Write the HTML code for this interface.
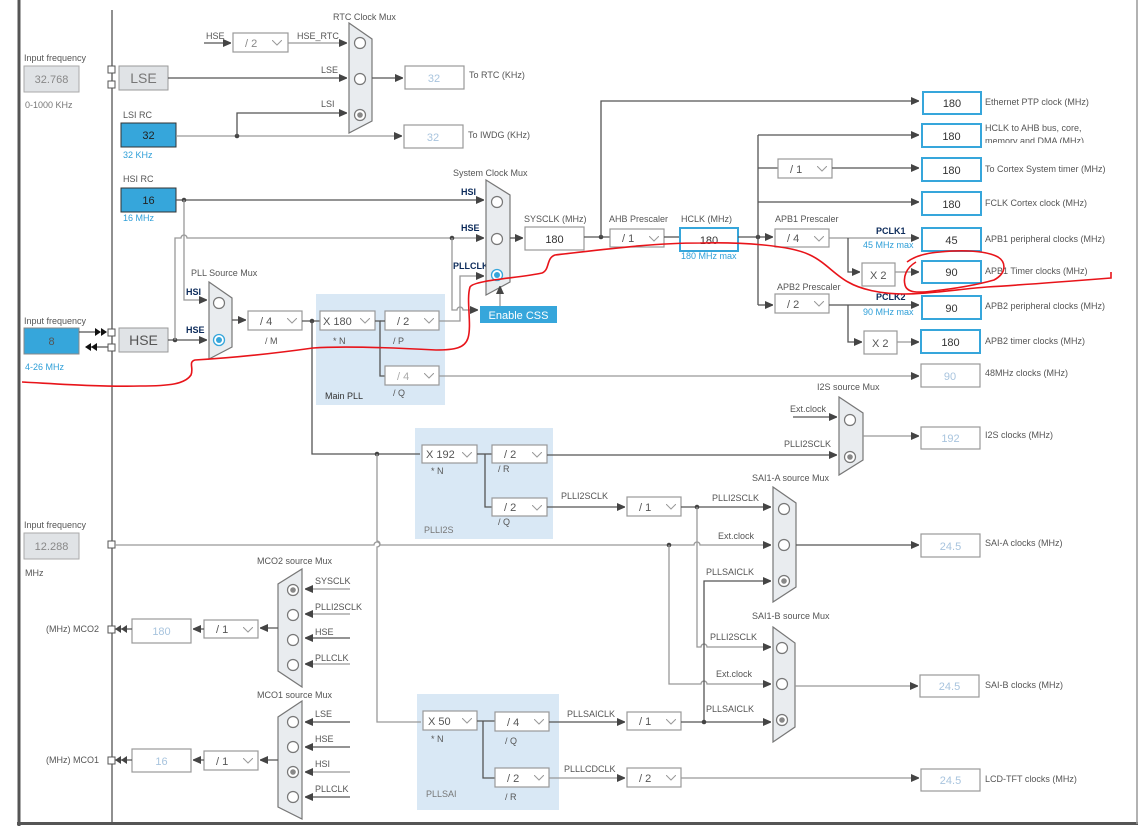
<!DOCTYPE html>
<html><head><meta charset="utf-8"><style>
html,body{margin:0;padding:0;background:#fff;width:1139px;height:831px;overflow:hidden}
svg{display:block}
text{font-family:"Liberation Sans",sans-serif}
.l{fill:none;stroke:#555;stroke-width:1.3}
.lg{fill:none;stroke:#999;stroke-width:1.3}
.t{font-size:9px;fill:#555}
.tn{font-size:9px;fill:#0b2a5a;font-weight:bold}
.tb{font-size:9px;fill:#2f9fd8}
.bx{fill:#fff;stroke:#999;stroke-width:1.2}
.bt{font-size:11px;fill:#555}
.bo{fill:#fff;stroke:#36a6db;stroke-width:2}
.bg{font-size:11px;fill:#a8c4de}
.mux{fill:#e9ecef;stroke:#777;stroke-width:1.2}
.c{fill:#fff;stroke:#777;stroke-width:1.2}
.pll{fill:#d9e8f5}
</style></head><body>
<svg width="1139" height="831" viewBox="0 0 1139 831" xmlns="http://www.w3.org/2000/svg">
<defs>
<marker id="a" markerWidth="8" markerHeight="8" refX="8" refY="4" orient="auto" markerUnits="userSpaceOnUse"><path d="M0,0 L9,4 L0,8z" fill="#444"/></marker>
<symbol id="ch" viewBox="0 0 10 6"><path d="M0,0 L5,5 L10,0" fill="none" stroke="#999" stroke-width="1"/></symbol>
</defs>
<!-- frame -->
<rect x="17.5" y="0" width="3" height="826" fill="#555"/>
<rect x="17" y="822" width="1121" height="3" fill="#555"/>
<line x1="1137" y1="0" x2="1137" y2="824" stroke="#999" stroke-width="1.5"/>
<line x1="112" y1="10" x2="112" y2="822" class="l"/>

<!-- PLL regions -->
<rect class="pll" x="316" y="294" width="129" height="111"/>
<rect class="pll" x="415" y="428" width="138" height="111"/>
<rect class="pll" x="417" y="694" width="142" height="116"/>

<!-- Left inputs -->
<text class="t" x="24" y="61">Input frequency</text>
<rect x="24" y="66" width="55" height="26" fill="#e0e3e6" stroke="#aaa"/>
<text class="bt" x="51.5" y="83" text-anchor="middle" fill="#888" style="fill:#888">32.768</text>
<text class="t" x="25" y="108" style="fill:#777">0-1000 KHz</text>
<rect x="108" y="66" width="7" height="7" fill="#fff" stroke="#555"/>
<rect x="108" y="81" width="7" height="7" fill="#fff" stroke="#555"/>
<rect x="119" y="66" width="49" height="24" fill="#e0e3e6" stroke="#999"/>
<text x="143.5" y="83" text-anchor="middle" font-size="14" fill="#777">LSE</text>

<text class="t" x="24" y="324">Input frequency</text>
<rect x="24" y="328" width="55" height="26" fill="#36a6db" stroke="#888"/>
<text class="bt" x="51.5" y="345" text-anchor="middle">8</text>
<text class="tb" x="25" y="370">4-26 MHz</text>
<line x1="79" y1="332" x2="98" y2="332" class="l"/>
<path d="M95,328 L101,332 L95,336z M101,328 L107,332 L101,336z" fill="#111"/>
<line x1="88" y1="347" x2="108" y2="347" class="l"/>
<path d="M85,347 L91,343 L91,351z M91,347 L97,343 L97,351z" fill="#111"/>
<rect x="108" y="329" width="7" height="7" fill="#fff" stroke="#555"/>
<rect x="108" y="344" width="7" height="7" fill="#fff" stroke="#555"/>
<rect x="119" y="328" width="49" height="24" fill="#e0e3e6" stroke="#999"/>
<text x="143.5" y="345" text-anchor="middle" font-size="14" fill="#555">HSE</text>

<text class="t" x="24" y="528">Input frequency</text>
<rect x="24" y="533" width="55" height="26" fill="#e0e3e6" stroke="#aaa"/>
<text class="bt" x="51.5" y="550" text-anchor="middle" style="fill:#888">12.288</text>
<text class="t" x="25" y="576">MHz</text>
<rect x="108" y="541" width="7" height="7" fill="#fff" stroke="#555"/>

<!-- RTC -->
<text class="t" x="333" y="20">RTC Clock Mux</text>
<polygon class="mux" points="349,23 372,39 372,121 349,133"/>
<circle class="c" cx="360" cy="43" r="5.5"/><circle class="c" cx="360" cy="79" r="5.5"/><circle class="c" cx="360" cy="115" r="5.5"/><circle cx="360" cy="115" r="2.8" fill="#888"/>
<text class="t" x="206" y="39">HSE</text>
<line x1="204" y1="43" x2="231" y2="43" class="l" marker-end="url(#a)"/>
<rect class="bx" x="233" y="33" width="55" height="19"/><text class="bt" x="245" y="47" style="fill:#888">/ 2</text><use href="#ch" x="272" y="40" width="10" height="6"/>
<text class="t" x="297" y="39">HSE_RTC</text>
<line x1="288" y1="43" x2="347" y2="43" class="lg" marker-end="url(#a)"/>
<text class="t" x="321" y="73">LSE</text>
<line x1="168" y1="78" x2="347" y2="78" class="l" marker-end="url(#a)"/>
<line x1="372" y1="78" x2="403" y2="78" class="l" marker-end="url(#a)"/>
<rect class="bx" x="405" y="66" width="59" height="23"/><text class="bg" x="434" y="82" text-anchor="middle">32</text>
<text class="t" x="469" y="78">To RTC (KHz)</text>

<text class="t" x="123" y="118">LSI RC</text>
<rect x="121" y="123" width="55" height="24" fill="#36a6db" stroke="#333"/>
<text class="bt" x="148.5" y="139" text-anchor="middle" style="fill:#222">32</text>
<text class="tb" x="123" y="158">32 KHz</text>
<line x1="176" y1="136" x2="402" y2="136" class="lg" marker-end="url(#a)"/>
<circle cx="237" cy="136" r="2.3" fill="#444"/>
<polyline points="237,136 237,113 347,113" class="l" marker-end="url(#a)"/>
<text class="t" x="321" y="107">LSI</text>
<rect class="bx" x="404" y="125" width="59" height="23"/><text class="bg" x="433" y="141" text-anchor="middle">32</text>
<text class="t" x="468" y="138">To IWDG (KHz)</text>

<!-- HSI / system mux -->
<text class="t" x="123" y="182">HSI RC</text>
<rect x="121" y="188" width="55" height="24" fill="#36a6db" stroke="#333"/>
<text class="bt" x="148.5" y="204" text-anchor="middle" style="fill:#222">16</text>
<text class="tb" x="123" y="221">16 MHz</text>
<line x1="176" y1="200" x2="484" y2="200" class="l" marker-end="url(#a)"/>
<circle cx="184" cy="200" r="2.3" fill="#444"/>
<polyline points="184,200 184,300 207,300" class="lg" marker-end="url(#a)"/>
<text class="tn" x="461" y="195">HSI</text>
<text class="tn" x="186" y="295">HSI</text>
<text class="tn" x="186" y="333">HSE</text>
<line x1="168" y1="340" x2="207" y2="340" class="l" marker-end="url(#a)"/>
<circle cx="175" cy="340" r="2.3" fill="#444"/>
<path d="M175,340 L175,238 L181,238 A3,3 0 0 1 187,238 L484,238" class="lg" marker-end="url(#a)"/>
<text class="tn" x="461" y="231">HSE</text>
<circle cx="452" cy="238" r="2.3" fill="#444"/>
<path d="M452,238 L452,310 L457,310 A3,3 0 0 1 463,310 L478,310" class="lg" marker-end="url(#a)"/>
<polyline points="439,321 460,321 460,276 484,276" class="lg" marker-end="url(#a)"/>
<text class="tn" x="453" y="269">PLLCLK</text>
<text class="t" x="453" y="176">System Clock Mux</text>
<polygon class="mux" points="486,180 510,195 510,282 486,295"/>
<circle class="c" cx="497" cy="202" r="5.5"/><circle class="c" cx="497" cy="239" r="5.5"/>
<circle cx="497" cy="275" r="5.5" fill="#fff" stroke="#36a6db" stroke-width="1.3"/><circle cx="497" cy="275" r="3" fill="#36a6db"/>
<rect x="480" y="306" width="77" height="17" fill="#36a6db"/>
<text x="518.5" y="319" text-anchor="middle" font-size="11" fill="#fff">Enable CSS</text>
<line x1="500" y1="306" x2="500" y2="286" class="lg" marker-end="url(#a)"/>

<!-- PLL source mux & main PLL -->
<text class="t" x="191" y="276">PLL Source Mux</text>
<polygon class="mux" points="209,282 232,298 232,347 209,359"/>
<circle class="c" cx="219" cy="303" r="5.5"/>
<circle cx="219" cy="340" r="5.5" fill="#fff" stroke="#36a6db" stroke-width="1.3"/><circle cx="219" cy="340" r="3" fill="#36a6db"/>
<line x1="232" y1="320" x2="246" y2="320" class="l" marker-end="url(#a)"/>
<rect class="bx" x="248" y="311" width="54" height="19"/><text class="bt" x="260" y="325">/ 4</text><use href="#ch" x="287" y="318" width="10" height="6"/>
<text class="t" x="265" y="344">/ M</text>
<line x1="302" y1="321" x2="320" y2="321" class="l"/>
<circle cx="312" cy="321" r="2.3" fill="#444"/>
<rect class="bx" x="320" y="311" width="55" height="19"/><text class="bt" x="323" y="325">X 180</text><use href="#ch" x="360" y="318" width="10" height="6"/>
<text class="t" x="333" y="344">* N</text>
<rect class="bx" x="385" y="311" width="54" height="19"/><text class="bt" x="397" y="325">/ 2</text><use href="#ch" x="424" y="318" width="10" height="6"/>
<text class="t" x="393" y="344">/ P</text>
<polyline points="375,321 380,321 380,376 385,376" class="l"/>
<line x1="380" y1="321" x2="385" y2="321" class="l"/>
<rect class="bx" x="385" y="366" width="54" height="19"/><text class="bt" x="397" y="380" style="fill:#aaa">/ 4</text><use href="#ch" x="424" y="373" width="10" height="6"/>
<text class="t" x="393" y="396">/ Q</text>
<text class="t" x="325" y="399" style="fill:#333">Main PLL</text>
<line x1="439" y1="376" x2="919" y2="376" class="lg" marker-end="url(#a)"/>
<rect class="bx" x="921" y="364" width="59" height="23"/><text class="bg" x="950" y="380" text-anchor="middle">90</text>
<text class="t" x="985" y="376">48MHz clocks (MHz)</text>

<!-- SYSCLK -> AHB -->
<text class="t" x="524" y="222">SYSCLK (MHz)</text>
<line x1="510" y1="238" x2="523" y2="238" class="l" marker-end="url(#a)"/>
<rect class="bx" x="525" y="227" width="59" height="23"/><text class="bt" x="554.5" y="243" text-anchor="middle" style="fill:#333">180</text>
<line x1="584" y1="237" x2="610" y2="237" class="l"/>
<circle cx="601" cy="237" r="2.3" fill="#444"/>
<polyline points="601,237 601,101 919,101" class="l" marker-end="url(#a)"/>
<text class="t" x="609" y="222">AHB Prescaler</text>
<rect class="bx" x="610" y="229" width="54" height="18"/><text class="bt" x="622" y="242">/ 1</text><use href="#ch" x="649" y="236" width="10" height="6"/>
<line x1="664" y1="237" x2="680" y2="237" class="l"/>
<text class="t" x="681" y="222">HCLK (MHz)</text>
<rect class="bo" x="680" y="228" width="58" height="23"/><text class="bt" x="709" y="244" text-anchor="middle" style="fill:#333">180</text>
<text class="tb" x="681" y="259">180 MHz max</text>
<line x1="738" y1="237" x2="773" y2="237" class="l" marker-end="url(#a)"/>
<circle cx="758" cy="237" r="2.3" fill="#444"/>
<line x1="758" y1="135" x2="758" y2="305" class="l"/>
<line x1="758" y1="135" x2="919" y2="135" class="l" marker-end="url(#a)"/>
<line x1="758" y1="168" x2="778" y2="168" class="l"/>
<rect class="bx" x="778" y="159" width="54" height="19"/><text class="bt" x="790" y="173">/ 1</text><use href="#ch" x="817" y="166" width="10" height="6"/>
<line x1="832" y1="168" x2="919" y2="168" class="l" marker-end="url(#a)"/>
<line x1="758" y1="202" x2="919" y2="202" class="l" marker-end="url(#a)"/>
<text class="t" x="775" y="222">APB1 Prescaler</text>
<rect class="bx" x="775" y="229" width="54" height="18"/><text class="bt" x="787" y="242">/ 4</text><use href="#ch" x="814" y="236" width="10" height="6"/>
<line x1="829" y1="238" x2="919" y2="238" class="lg" marker-end="url(#a)"/>
<text class="tn" x="876" y="234">PCLK1</text>
<text class="tb" x="863" y="248">45 MHz max</text>
<polyline points="848,238 848,272 860,272" class="l" marker-end="url(#a)"/>
<rect class="bx" x="862" y="263" width="33" height="23"/><text class="bt" x="870" y="279">X 2</text>
<line x1="895" y1="272" x2="919" y2="272" class="lg" marker-end="url(#a)"/>
<line x1="758" y1="305" x2="773" y2="305" class="l" marker-end="url(#a)"/>
<text class="t" x="777" y="290">APB2 Prescaler</text>
<rect class="bx" x="775" y="294" width="54" height="19"/><text class="bt" x="787" y="308">/ 2</text><use href="#ch" x="814" y="301" width="10" height="6"/>
<line x1="829" y1="305" x2="919" y2="305" class="l" marker-end="url(#a)"/>
<text class="tn" x="876" y="300">PCLK2</text>
<text class="tb" x="863" y="315">90 MHz max</text>
<polyline points="848,305 848,342 862,342" class="l" marker-end="url(#a)"/>
<rect class="bx" x="864" y="331" width="33" height="23"/><text class="bt" x="872" y="347">X 2</text>
<line x1="897" y1="342" x2="919" y2="342" class="lg" marker-end="url(#a)"/>

<!-- output boxes -->
<g>
<rect class="bo" x="923" y="92" width="58" height="22"/><text class="bt" x="952" y="107" text-anchor="middle" style="fill:#333">180</text>
<text class="t" x="985" y="105">Ethernet PTP clock (MHz)</text>
<rect class="bo" x="922" y="124" width="59" height="23"/><text class="bt" x="951.5" y="140" text-anchor="middle" style="fill:#333">180</text>
<text class="t" x="985" y="131">HCLK to AHB bus, core,</text>
<svg x="985" y="134" width="120" height="9" overflow="hidden"><text class="t" x="0" y="10">memory and DMA (MHz)</text></svg>
<rect class="bo" x="922" y="158" width="59" height="23"/><text class="bt" x="951.5" y="174" text-anchor="middle" style="fill:#333">180</text>
<text class="t" x="985" y="172">To Cortex System timer (MHz)</text>
<rect class="bo" x="922" y="192" width="59" height="23"/><text class="bt" x="951.5" y="208" text-anchor="middle" style="fill:#333">180</text>
<text class="t" x="985" y="206">FCLK Cortex clock (MHz)</text>
<rect class="bo" x="922" y="228" width="59" height="23"/><text class="bt" x="951.5" y="244" text-anchor="middle" style="fill:#333">45</text>
<text class="t" x="985" y="242">APB1 peripheral clocks (MHz)</text>
<rect class="bo" x="922" y="261" width="59" height="22"/><text class="bt" x="951.5" y="276" text-anchor="middle" style="fill:#333">90</text>
<text class="t" x="985" y="274">APB1 Timer clocks (MHz)</text>
<rect class="bo" x="922" y="296" width="59" height="23"/><text class="bt" x="951.5" y="312" text-anchor="middle" style="fill:#333">90</text>
<text class="t" x="985" y="309">APB2 peripheral clocks (MHz)</text>
<rect class="bo" x="921" y="330" width="59" height="23"/><text class="bt" x="950.5" y="346" text-anchor="middle" style="fill:#333">180</text>
<text class="t" x="985" y="344">APB2 timer clocks (MHz)</text>
</g>

<!-- PLLI2S -->
<polyline points="312,321 312,454 420,454" class="l"/>
<circle cx="377" cy="454" r="2.3" fill="#444"/>
<path d="M377,454 L377,541 A3,3 0 0 1 377,547 L377,722 L421,722" class="lg"/>
<rect class="bx" x="422" y="445" width="55" height="18"/><text class="bt" x="426" y="458">X 192</text><use href="#ch" x="462" y="452" width="10" height="6"/>
<text class="t" x="431" y="474">* N</text>
<polyline points="477,454 492,454" class="l"/><polyline points="485,454 485,507 492,507" class="l"/>
<rect class="bx" x="492" y="445" width="55" height="18"/><text class="bt" x="504" y="458">/ 2</text><use href="#ch" x="532" y="452" width="10" height="6"/>
<text class="t" x="498" y="472">/ R</text>
<rect class="bx" x="492" y="498" width="55" height="18"/><text class="bt" x="504" y="511">/ 2</text><use href="#ch" x="532" y="505" width="10" height="6"/>
<text class="t" x="498" y="525">/ Q</text>
<text class="t" x="424" y="533" style="fill:#777">PLLI2S</text>
<line x1="547" y1="455" x2="837" y2="455" class="l" marker-end="url(#a)"/>
<text class="t" x="784" y="447">PLLI2SCLK</text>
<text class="t" x="790" y="412">Ext.clock</text>
<line x1="793" y1="417" x2="837" y2="417" class="l" marker-end="url(#a)"/>
<text class="t" x="817" y="390">I2S source Mux</text>
<polygon class="mux" points="839,397 863,413 863,460 839,475"/>
<circle class="c" cx="850" cy="420" r="5.5"/><circle class="c" cx="850" cy="457" r="5.5"/><circle cx="850" cy="457" r="2.8" fill="#888"/>
<line x1="863" y1="436" x2="919" y2="436" class="lg" marker-end="url(#a)"/>
<rect class="bx" x="921" y="427" width="59" height="22"/><text class="bg" x="950.5" y="442" text-anchor="middle">192</text>
<text class="t" x="985" y="438">I2S clocks (MHz)</text>

<!-- SAI -->
<line x1="547" y1="507" x2="625" y2="507" class="l" marker-end="url(#a)"/>
<text class="t" x="561" y="499">PLLI2SCLK</text>
<rect class="bx" x="627" y="497" width="54" height="19"/><text class="bt" x="639" y="511">/ 1</text><use href="#ch" x="666" y="504" width="10" height="6"/>
<line x1="681" y1="507" x2="771" y2="507" class="l" marker-end="url(#a)"/>
<circle cx="697" cy="507" r="2.3" fill="#444"/>
<text class="t" x="712" y="501">PLLI2SCLK</text>
<path d="M115,545 L374,545 A3,3 0 0 1 380,545 L694,545 A3,3 0 0 1 700,545 L771,545" class="lg" marker-end="url(#a)"/>
<circle cx="669" cy="545" r="2.3" fill="#444"/>
<text class="t" x="718" y="539">Ext.clock</text>
<path d="M697,507 L697,647 L701,647 A3,3 0 0 1 707,647 L771,647" class="lg" marker-end="url(#a)"/>
<path d="M669,545 L669,684 L701,684 A3,3 0 0 1 707,684 L771,684" class="lg" marker-end="url(#a)"/>
<polyline points="704,722 704,581 771,581" class="l" marker-end="url(#a)"/>
<text class="t" x="706" y="575">PLLSAICLK</text>
<text class="t" x="710" y="640">PLLI2SCLK</text>
<text class="t" x="716" y="677">Ext.clock</text>
<text class="t" x="706" y="712">PLLSAICLK</text>
<text class="t" x="752" y="481">SAI1-A source Mux</text>
<polygon class="mux" points="773,487 796,503 796,587 773,602"/>
<circle class="c" cx="784" cy="509" r="5.5"/><circle class="c" cx="784" cy="545" r="5.5"/><circle class="c" cx="784" cy="581" r="5.5"/><circle cx="784" cy="581" r="2.8" fill="#888"/>
<line x1="796" y1="545" x2="919" y2="545" class="l" marker-end="url(#a)"/>
<rect class="bx" x="921" y="534" width="59" height="23"/><text class="bg" x="950.5" y="550" text-anchor="middle">24.5</text>
<text class="t" x="985" y="546">SAI-A clocks (MHz)</text>
<text class="t" x="752" y="619">SAI1-B source Mux</text>
<polygon class="mux" points="773,627 795,643 795,727 773,742"/>
<circle class="c" cx="782" cy="648" r="5.5"/><circle class="c" cx="782" cy="684" r="5.5"/><circle class="c" cx="782" cy="720" r="5.5"/><circle cx="782" cy="720" r="2.8" fill="#888"/>
<line x1="795" y1="686" x2="918" y2="686" class="lg" marker-end="url(#a)"/>
<rect class="bx" x="920" y="675" width="59" height="22"/><text class="bg" x="949.5" y="690" text-anchor="middle">24.5</text>
<text class="t" x="985" y="688">SAI-B clocks (MHz)</text>

<!-- PLLSAI -->
<rect class="bx" x="423" y="711" width="54" height="19"/><text class="bt" x="428" y="725">X 50</text><use href="#ch" x="462" y="718" width="10" height="6"/>
<text class="t" x="431" y="742">* N</text>
<line x1="477" y1="721" x2="495" y2="721" class="l"/><polyline points="483,721 483,778 495,778" class="l"/>
<rect class="bx" x="495" y="712" width="54" height="19"/><text class="bt" x="507" y="726">/ 4</text><use href="#ch" x="534" y="719" width="10" height="6"/>
<text class="t" x="505" y="744">/ Q</text>
<rect class="bx" x="495" y="768" width="54" height="19"/><text class="bt" x="507" y="782">/ 2</text><use href="#ch" x="534" y="775" width="10" height="6"/>
<text class="t" x="505" y="800">/ R</text>
<text class="t" x="426" y="797" style="fill:#777">PLLSAI</text>
<line x1="549" y1="722" x2="625" y2="722" class="l" marker-end="url(#a)"/>
<text class="t" x="567" y="717">PLLSAICLK</text>
<rect class="bx" x="627" y="712" width="54" height="18"/><text class="bt" x="639" y="725">/ 1</text><use href="#ch" x="666" y="719" width="10" height="6"/>
<line x1="681" y1="722" x2="771" y2="722" class="l" marker-end="url(#a)"/>
<circle cx="704" cy="722" r="2.3" fill="#444"/>
<line x1="549" y1="778" x2="625" y2="778" class="lg" marker-end="url(#a)"/>
<text class="t" x="564" y="772">PLLLCDCLK</text>
<rect class="bx" x="627" y="768" width="54" height="19"/><text class="bt" x="639" y="782">/ 2</text><use href="#ch" x="666" y="775" width="10" height="6"/>
<line x1="681" y1="778" x2="919" y2="778" class="lg" marker-end="url(#a)"/>
<rect class="bx" x="921" y="769" width="59" height="22"/><text class="bg" x="950.5" y="784" text-anchor="middle">24.5</text>
<text class="t" x="985" y="782">LCD-TFT clocks (MHz)</text>

<!-- MCO2 -->
<text class="t" x="257" y="564">MCO2 source Mux</text>
<polygon class="mux" points="302,569 302,687 278,671 278,584"/>
<circle class="c" cx="293" cy="590" r="5.5"/><circle cx="293" cy="590" r="2.8" fill="#888"/>
<circle class="c" cx="293" cy="615" r="5.5"/><circle class="c" cx="293" cy="640" r="5.5"/><circle class="c" cx="293" cy="665" r="5.5"/>
<text class="t" x="315" y="584">SYSCLK</text><line x1="350" y1="589" x2="305" y2="589" class="lg" marker-end="url(#a)"/>
<text class="t" x="315" y="610">PLLI2SCLK</text><line x1="350" y1="614" x2="305" y2="614" class="lg" marker-end="url(#a)"/>
<text class="t" x="315" y="635">HSE</text><line x1="350" y1="638" x2="305" y2="638" class="l" marker-end="url(#a)"/>
<text class="t" x="315" y="661">PLLCLK</text><line x1="350" y1="664" x2="305" y2="664" class="lg" marker-end="url(#a)"/>
<line x1="278" y1="628" x2="260" y2="628" class="l" marker-end="url(#a)"/>
<rect class="bx" x="204" y="620" width="54" height="18"/><text class="bt" x="216" y="633">/ 1</text><use href="#ch" x="243" y="627" width="10" height="6"/>
<line x1="204" y1="629" x2="193" y2="629" class="l" marker-end="url(#a)"/>
<rect class="bx" x="132" y="619" width="59" height="24"/><text class="bg" x="161.5" y="635" text-anchor="middle">180</text>
<line x1="132" y1="629" x2="115" y2="629" class="l"/>
<path d="M115,629 L121,625 L121,633z M121,629 L127,625 L127,633z" fill="#444"/>
<rect x="108" y="626" width="7" height="7" fill="#fff" stroke="#555"/>
<text class="t" x="46" y="632">(MHz) MCO2</text>

<!-- MCO1 -->
<text class="t" x="257" y="698">MCO1 source Mux</text>
<polygon class="mux" points="302,701 302,819 278,807 278,717"/>
<circle class="c" cx="293" cy="722" r="5.5"/><circle class="c" cx="293" cy="747" r="5.5"/>
<circle class="c" cx="293" cy="772" r="5.5"/><circle cx="293" cy="772" r="2.8" fill="#888"/><circle class="c" cx="293" cy="797" r="5.5"/>
<text class="t" x="315" y="717">LSE</text><line x1="350" y1="722" x2="305" y2="722" class="l" marker-end="url(#a)"/>
<text class="t" x="315" y="742">HSE</text><line x1="350" y1="747" x2="305" y2="747" class="l" marker-end="url(#a)"/>
<text class="t" x="315" y="767">HSI</text><line x1="350" y1="772" x2="305" y2="772" class="lg" marker-end="url(#a)"/>
<text class="t" x="315" y="792">PLLCLK</text><line x1="350" y1="797" x2="305" y2="797" class="l" marker-end="url(#a)"/>
<line x1="278" y1="760" x2="260" y2="760" class="l" marker-end="url(#a)"/>
<rect class="bx" x="204" y="751" width="54" height="19"/><text class="bt" x="216" y="765">/ 1</text><use href="#ch" x="243" y="758" width="10" height="6"/>
<line x1="204" y1="760" x2="193" y2="760" class="l" marker-end="url(#a)"/>
<rect class="bx" x="132" y="749" width="59" height="23"/><text class="bg" x="161.5" y="765" text-anchor="middle">16</text>
<line x1="132" y1="760" x2="115" y2="760" class="l"/>
<path d="M115,760 L121,756 L121,764z M121,760 L127,756 L127,764z" fill="#444"/>
<rect x="108" y="757" width="7" height="7" fill="#fff" stroke="#555"/>
<text class="t" x="46" y="763">(MHz) MCO1</text>

<!-- red annotation -->
<path d="M22,382 C60,384 100,387 140,386 C170,386 185,384 191,375 C194,368 188,362 195,360 C230,358 270,354 313,348 C340,346 380,347 436,350 C455,350 465,348 468,338 C472,325 466,300 470,287 C474,280 520,278 542,273 C550,270 546,258 555,255 C600,250 650,243 700,243 C740,242 790,245 810,255 C825,262 835,275 848,282 C860,289 880,294 904,294 C930,294 960,289 987,287 C1020,285 1060,282 1111,278 L1111,272" fill="none" stroke="#e8141a" stroke-width="1.6"/>
<path d="M907,262 C915,256 925,253 940,252 C960,250 985,250 998,257 C1006,262 1007,273 994,280 C980,284 960,288 933,291 C918,293 907,293 905,285 C903,277 906,268 916,262" fill="none" stroke="#e8141a" stroke-width="1.6"/>
</svg>
</body></html>
